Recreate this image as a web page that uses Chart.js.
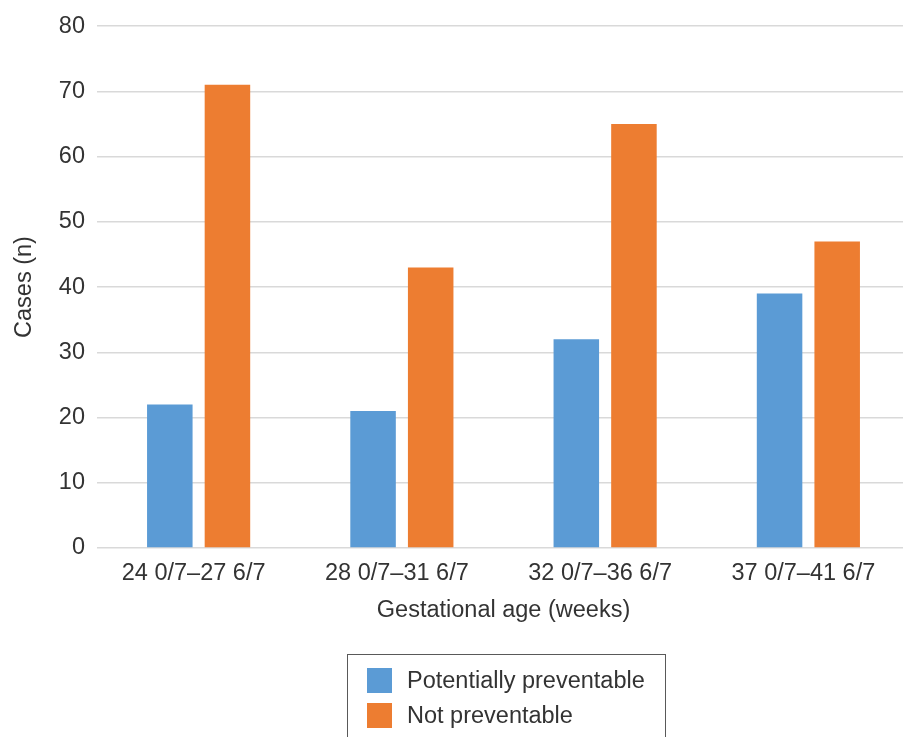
<!DOCTYPE html>
<html>
<head>
<meta charset="utf-8">
<script src="https://cdn.jsdelivr.net/npm/chart.js@4.4.0/dist/chart.umd.min.js"></script>
<style>
  html, body { margin: 0; padding: 0; background: #fff; }
  #wrap { position: relative; width: 903px; height: 737px; overflow: hidden; }
  #c { position: absolute; left: 0; top: 0; }
  #legend {
    position: absolute; left: 347px; top: 654px; width: 319px; height: 90px;
    border: 1.5px solid #595959; box-sizing: border-box;
    font-family: "Liberation Sans", Arial, sans-serif; font-size: 23.5px; color: #333;
  }
  .item { position: absolute; left: 19px; height: 25px; line-height: 25px; white-space: nowrap; }
  .sw { display: inline-block; width: 25px; height: 25px; vertical-align: top; margin-right: 15px; }
</style>
</head>
<body>
<div id="wrap">
  <canvas id="c" width="910" height="737"></canvas>
  <div id="legend"></div>
</div>
<script>
const categories = ["24 0/7\u201327 6/7", "28 0/7\u201331 6/7", "32 0/7\u201336 6/7", "37 0/7\u201341 6/7"];
const potentiallyPreventable = [22, 21, 32, 39];
const notPreventable = [71, 43, 65, 47];
const seriesNames = ["Potentially preventable", "Not preventable"];
const seriesColors = ["#5B9BD5", "#ED7D31"];
const yTicks = [0, 10, 20, 30, 40, 50, 60, 70, 80];

const FONT = "'Liberation Sans', Arial, sans-serif";
const TEXT = "#333333";
const FS = 23.5;

const chart = new Chart(document.getElementById("c"), {
  type: "bar",
  data: {
    labels: categories,
    datasets: [
      { label: seriesNames[0], data: potentiallyPreventable, backgroundColor: seriesColors[0] },
      { label: seriesNames[1], data: notPreventable, backgroundColor: seriesColors[1] }
    ]
  },
  options: {
    responsive: false,
    animation: false,
    devicePixelRatio: 1,
    categoryPercentage: 0.567,
    barPercentage: 0.79,
    layout: { padding: { top: 22, right: 0, left: 0, bottom: 112 } },
    plugins: { legend: { display: false }, tooltip: { enabled: false } },
    scales: {
      x: {
        grid: { display: false, drawTicks: false },
        border: { display: false },
        ticks: { color: TEXT, font: { family: FONT, size: FS }, padding: 11, labelOffset: -5, maxRotation: 0, autoSkip: false },
        title: { display: true, text: "Gestational age (weeks)", color: TEXT, font: { family: FONT, size: FS }, padding: 0 },
        afterFit: (s) => { s.height = 77; }
      },
      y: {
        min: 0, max: 80,
        afterBuildTicks: (s) => { s.ticks = yTicks.map(v => ({ value: v })); },
        grid: { color: "#d9d9d9", lineWidth: 1.5, drawTicks: false },
        border: { display: false },
        ticks: { color: TEXT, font: { family: FONT, size: FS }, padding: 12 },
        title: { display: true, text: "Cases (n)", color: TEXT, font: { family: FONT, size: FS }, padding: { top: 10, bottom: 8 } },
        afterFit: (s) => { s.width = 97; }
      }
    }
  }
});

const leg = document.getElementById("legend");
chart.data.datasets.forEach((ds, i) => {
  const d = document.createElement("div");
  d.className = "item";
  d.style.top = (13 + i * 35) + "px";
  const sw = document.createElement("span");
  sw.className = "sw";
  sw.style.background = ds.backgroundColor;
  d.appendChild(sw);
  d.appendChild(document.createTextNode(ds.label));
  leg.appendChild(d);
});
</script>
</body>
</html>
